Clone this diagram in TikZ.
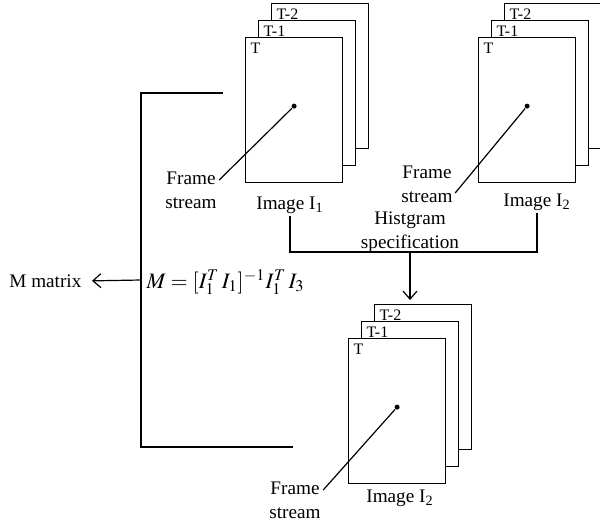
\documentclass[tikz,border=0pt]{standalone}
\usepackage{mathptmx}
\usepackage[no-math]{fontspec}
\setmainfont{Liberation Serif}
\usetikzlibrary{arrows.meta}
\begin{document}
\begin{tikzpicture}[x=0.5pt, y=-0.5pt,
    frame/.style={draw, fill=white, minimum width=48.5pt, minimum height=72.5pt, inner sep=0pt, anchor=north west},
    tag/.style={anchor=north west, inner sep=2.5pt, font=\fontsize{8}{9}\selectfont},
    txt/.style={align=center, inner sep=1pt, font=\fontsize{9.6}{12}\selectfont},
    dot/.style={circle, fill, inner sep=0pt, minimum size=2.5pt},
    line width=0.6pt,
    >={Straight Barb[length=4pt, width=7pt]}
]
  \useasboundingbox (0,0) rectangle (600,525);
  % three stacks of frames: T-2 behind, T in front
  \foreach \s/\x/\y in {a/245/37, b/478/37, c/348/338} {
    \node[frame] (\s-2) at (\x+26,\y-34) {};
    \node[tag] at (\s-2.north west) {T-2};
    \node[frame] (\s-1) at (\x+13,\y-17) {};
    \node[tag] at (\s-1.north west) {T-1};
    \node[frame] (\s-0) at (\x,\y) {};
    \node[tag] at (\s-0.north west) {T};
    \node[dot] (d\s) at ([yshift=2pt]\s-0.center) {};
  }
  \node[txt] (img1) at (290,205) {Image I\textsubscript{1}};
  \node[txt] (img2) at (537,202) {Image I\textsubscript{2}};
  \node[txt] (img3) at (400,498) {Image I\textsubscript{2}};
  \node[txt] (fs1) at (191,190) {Frame\\stream};
  \node[txt] (fs2) at (427,184) {Frame\\stream};
  \node[txt] (fs3) at (295,500) {Frame\\stream};
  \draw (da) -- ([yshift=5pt]fs1.east);
  \draw (db) -- ([yshift=-4.5pt]fs2.east);
  \draw (dc) -- ([yshift=5pt]fs3.east);
  % histogram specification
  \node[txt] (hs) at (410,232) {Histgram\\specification};
  \coordinate (hm) at (410,252);
  \draw (img1.south) |- (hm) -| (img2.south);
  \draw[->, shorten >=2pt] (hm) -- (hm |- c-2.north);
  % M matrix bracket
  \coordinate (bt) at (223,93);
  \coordinate (bb) at (293,447);
  \coordinate (bm) at (141,280);
  \draw (bt) -| (bm) |- (bb);
  \node[txt, anchor=east] (mm) at (84,281) {M matrix};
  \draw[->, shorten >=4pt] (bm) -- (mm.east);
  \node[txt, anchor=west, font=\fontsize{11}{13}\selectfont] (eq) at (144,282)
    {$M=[I_1^T\, I_1]^{-1} I_1^T\, I_3$};
\end{tikzpicture}
\end{document}
